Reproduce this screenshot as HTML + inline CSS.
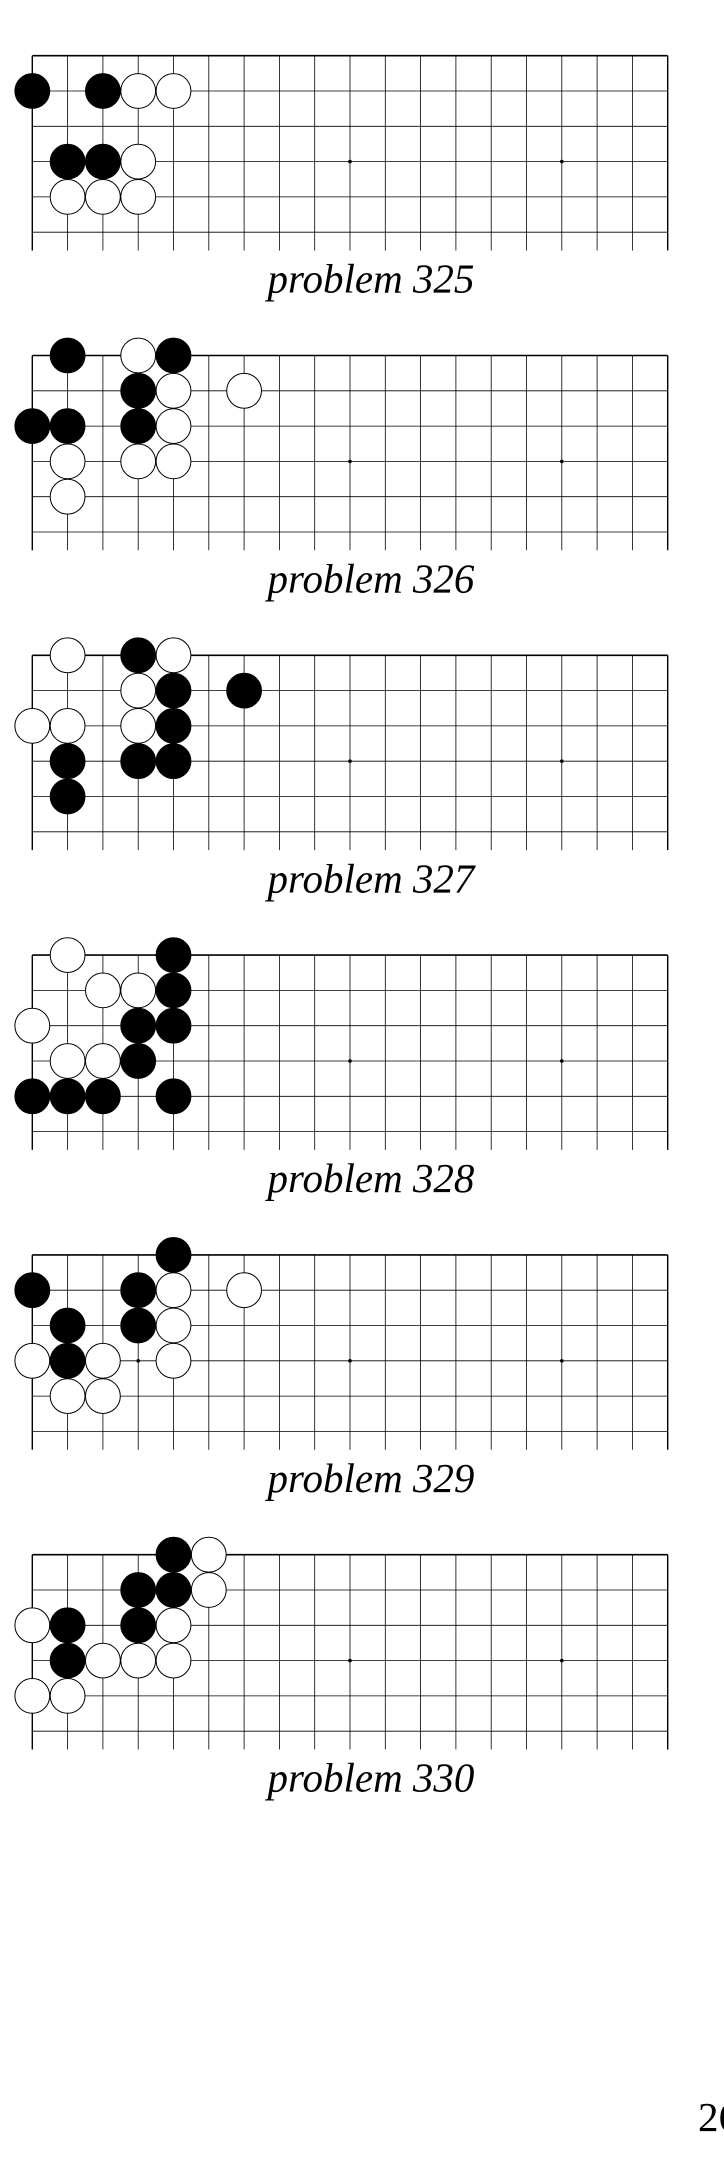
<!DOCTYPE html>
<html><head><meta charset="utf-8"><style>
html,body{margin:0;padding:0;background:#fff;}
body{width:724px;height:2181px;position:relative;overflow:hidden;}
svg{position:absolute;left:0;top:0;}
</style></head><body>
<svg id="page" width="724" height="2181" viewBox="0 0 724 2181" xmlns="http://www.w3.org/2000/svg">
<text x="698" y="2131" font-family="Liberation Serif, serif" font-size="41" fill="#000">26</text>
</svg>
<script>
const problemNumbers = [325, 326, 327, 328, 329, 330];
const blackStones = [
  [[0,1],[2,1],[1,3],[2,3]],
  [[1,0],[4,0],[3,1],[0,2],[1,2],[3,2]],
  [[3,0],[4,1],[6,1],[4,2],[1,3],[3,3],[4,3],[1,4]],
  [[4,0],[4,1],[3,2],[4,2],[3,3],[0,4],[1,4],[2,4],[4,4]],
  [[4,0],[0,1],[3,1],[1,2],[3,2],[1,3]],
  [[4,0],[3,1],[4,1],[1,2],[3,2],[1,3]]
];
const whiteStones = [
  [[3,1],[4,1],[3,3],[1,4],[2,4],[3,4]],
  [[3,0],[4,1],[6,1],[4,2],[1,3],[3,3],[4,3],[1,4]],
  [[1,0],[4,0],[3,1],[0,2],[1,2],[3,2]],
  [[1,0],[2,1],[3,1],[0,2],[1,3],[2,3]],
  [[4,1],[6,1],[4,2],[0,3],[2,3],[4,3],[1,4],[2,4]],
  [[5,0],[5,1],[0,2],[4,2],[2,3],[3,3],[4,3],[0,4],[1,4]]
];
const starPoints = [[3,3],[9,3],[15,3]];

const NS = 'http://www.w3.org/2000/svg';
const svg = document.getElementById('page');
const X0 = 32.3, SP = 35.3, COLS = 19, ROWS = 6, BOARD_GAP = 299.8, TOP0 = 55.7, R = 17.4;
function colX(c){ return X0 + c*SP; }
function rowY(b, r){ return TOP0 + b*BOARD_GAP + r*SP; }
function mk(tag, attrs){ const e = document.createElementNS(NS, tag); for (const k in attrs) e.setAttribute(k, attrs[k]); return e; }

problemNumbers.forEach((num, b) => {
  const g = mk('g', {});
  
  
  svg.appendChild(g);
  const top = rowY(b, 0), bottom = top + (ROWS - 1)*SP + 18.3;
  for (let r = 0; r < ROWS; r++) {
    const ln = mk('line', {x1: colX(0), x2: colX(COLS-1), y1: rowY(b, r), y2: rowY(b, r), stroke: '#000', 'stroke-width': r === 0 ? 1.6 : 0.8});
    
    
    g.appendChild(ln);
  }
  for (let c = 0; c < COLS; c++) {
    const ln = mk('line', {x1: colX(c), x2: colX(c), y1: top, y2: bottom, stroke: '#000', 'stroke-width': (c === 0 || c === COLS-1) ? 1.4 : 0.8});
    
    
    g.appendChild(ln);
  }
  starPoints.forEach(p => {
    const d = mk('circle', {cx: colX(p[0]), cy: rowY(b, p[1]), r: 1.8, fill: '#000'});
    
    
    g.appendChild(d);
  });
  whiteStones[b].forEach(p => {
    const s = mk('circle', {cx: colX(p[0]), cy: rowY(b, p[1]), r: R, fill: '#fff', stroke: '#000', 'stroke-width': 1});
    
    
    g.appendChild(s);
  });
  blackStones[b].forEach(p => {
    const s = mk('circle', {cx: colX(p[0]), cy: rowY(b, p[1]), r: R, fill: '#000', stroke: '#000', 'stroke-width': 1});
    
    
    g.appendChild(s);
  });
  const t = mk('text', {x: 371, y: top + 237, 'text-anchor': 'middle', 'font-family': 'Liberation Serif, serif', 'font-style': 'italic', 'font-size': 41, fill: '#000'});
  t.textContent = 'problem ' + num;
  
  
  g.appendChild(t);
});
</script>
</body></html>
